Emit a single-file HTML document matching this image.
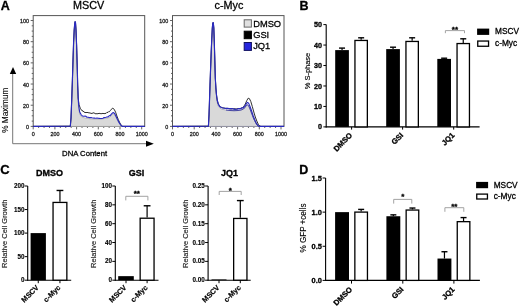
<!DOCTYPE html>
<html><head><meta charset="utf-8"><style>
html,body{margin:0;padding:0;background:#fff;overflow:hidden;}
svg{display:block;font-family:"Liberation Sans", sans-serif;will-change:transform;}
</style></head><body>
<svg width="520" height="306" viewBox="0 0 520 306">
<rect width="520" height="306" fill="#fff"/>
<text x="0.80" y="10.00" font-size="12.5" text-anchor="start" font-weight="bold" fill="#000" stroke="#000" stroke-width="0.3">A</text>
<text x="88.70" y="9.00" font-size="10.8" text-anchor="middle" fill="#000" stroke="#000" stroke-width="0.28">MSCV</text>
<rect x="33.20" y="15.60" width="111.50" height="110.80" fill="none" stroke="#555" stroke-width="1"/>
<line x1="30.70" y1="126.40" x2="33.20" y2="126.40" stroke="#555" stroke-width="0.9"/>
<text x="28.90" y="128.90" font-size="5.4" text-anchor="end" fill="#222" stroke="#222" stroke-width="0.28">0</text>
<line x1="31.70" y1="121.11" x2="33.20" y2="121.11" stroke="#555" stroke-width="0.9"/>
<line x1="31.70" y1="115.81" x2="33.20" y2="115.81" stroke="#555" stroke-width="0.9"/>
<line x1="31.70" y1="110.52" x2="33.20" y2="110.52" stroke="#555" stroke-width="0.9"/>
<line x1="30.70" y1="105.22" x2="33.20" y2="105.22" stroke="#555" stroke-width="0.9"/>
<text x="28.90" y="107.72" font-size="5.4" text-anchor="end" fill="#222" stroke="#222" stroke-width="0.28">20</text>
<line x1="31.70" y1="99.93" x2="33.20" y2="99.93" stroke="#555" stroke-width="0.9"/>
<line x1="31.70" y1="94.63" x2="33.20" y2="94.63" stroke="#555" stroke-width="0.9"/>
<line x1="31.70" y1="89.34" x2="33.20" y2="89.34" stroke="#555" stroke-width="0.9"/>
<line x1="30.70" y1="84.04" x2="33.20" y2="84.04" stroke="#555" stroke-width="0.9"/>
<text x="28.90" y="86.54" font-size="5.4" text-anchor="end" fill="#222" stroke="#222" stroke-width="0.28">40</text>
<line x1="31.70" y1="78.75" x2="33.20" y2="78.75" stroke="#555" stroke-width="0.9"/>
<line x1="31.70" y1="73.45" x2="33.20" y2="73.45" stroke="#555" stroke-width="0.9"/>
<line x1="31.70" y1="68.16" x2="33.20" y2="68.16" stroke="#555" stroke-width="0.9"/>
<line x1="30.70" y1="62.86" x2="33.20" y2="62.86" stroke="#555" stroke-width="0.9"/>
<text x="28.90" y="65.36" font-size="5.4" text-anchor="end" fill="#222" stroke="#222" stroke-width="0.28">60</text>
<line x1="31.70" y1="57.57" x2="33.20" y2="57.57" stroke="#555" stroke-width="0.9"/>
<line x1="31.70" y1="52.27" x2="33.20" y2="52.27" stroke="#555" stroke-width="0.9"/>
<line x1="31.70" y1="46.98" x2="33.20" y2="46.98" stroke="#555" stroke-width="0.9"/>
<line x1="30.70" y1="41.68" x2="33.20" y2="41.68" stroke="#555" stroke-width="0.9"/>
<text x="28.90" y="44.18" font-size="5.4" text-anchor="end" fill="#222" stroke="#222" stroke-width="0.28">80</text>
<line x1="31.70" y1="36.39" x2="33.20" y2="36.39" stroke="#555" stroke-width="0.9"/>
<line x1="31.70" y1="31.09" x2="33.20" y2="31.09" stroke="#555" stroke-width="0.9"/>
<line x1="31.70" y1="25.80" x2="33.20" y2="25.80" stroke="#555" stroke-width="0.9"/>
<line x1="30.70" y1="20.50" x2="33.20" y2="20.50" stroke="#555" stroke-width="0.9"/>
<text x="28.90" y="23.00" font-size="5.4" text-anchor="end" fill="#222" stroke="#222" stroke-width="0.28">100</text>
<line x1="33.20" y1="126.40" x2="33.20" y2="129.40" stroke="#555" stroke-width="0.9"/>
<text x="33.20" y="136.10" font-size="5.4" text-anchor="middle" fill="#222" stroke="#222" stroke-width="0.28">0</text>
<line x1="38.62" y1="126.40" x2="38.62" y2="128.00" stroke="#555" stroke-width="0.9"/>
<line x1="44.05" y1="126.40" x2="44.05" y2="128.00" stroke="#555" stroke-width="0.9"/>
<line x1="49.48" y1="126.40" x2="49.48" y2="128.00" stroke="#555" stroke-width="0.9"/>
<line x1="54.90" y1="126.40" x2="54.90" y2="129.40" stroke="#555" stroke-width="0.9"/>
<text x="54.90" y="136.10" font-size="5.4" text-anchor="middle" fill="#222" stroke="#222" stroke-width="0.28">200</text>
<line x1="60.33" y1="126.40" x2="60.33" y2="128.00" stroke="#555" stroke-width="0.9"/>
<line x1="65.75" y1="126.40" x2="65.75" y2="128.00" stroke="#555" stroke-width="0.9"/>
<line x1="71.18" y1="126.40" x2="71.18" y2="128.00" stroke="#555" stroke-width="0.9"/>
<line x1="76.60" y1="126.40" x2="76.60" y2="129.40" stroke="#555" stroke-width="0.9"/>
<text x="76.60" y="136.10" font-size="5.4" text-anchor="middle" fill="#222" stroke="#222" stroke-width="0.28">400</text>
<line x1="82.03" y1="126.40" x2="82.03" y2="128.00" stroke="#555" stroke-width="0.9"/>
<line x1="87.45" y1="126.40" x2="87.45" y2="128.00" stroke="#555" stroke-width="0.9"/>
<line x1="92.88" y1="126.40" x2="92.88" y2="128.00" stroke="#555" stroke-width="0.9"/>
<line x1="98.30" y1="126.40" x2="98.30" y2="129.40" stroke="#555" stroke-width="0.9"/>
<text x="98.30" y="136.10" font-size="5.4" text-anchor="middle" fill="#222" stroke="#222" stroke-width="0.28">600</text>
<line x1="103.73" y1="126.40" x2="103.73" y2="128.00" stroke="#555" stroke-width="0.9"/>
<line x1="109.15" y1="126.40" x2="109.15" y2="128.00" stroke="#555" stroke-width="0.9"/>
<line x1="114.58" y1="126.40" x2="114.58" y2="128.00" stroke="#555" stroke-width="0.9"/>
<line x1="120.00" y1="126.40" x2="120.00" y2="129.40" stroke="#555" stroke-width="0.9"/>
<text x="120.00" y="136.10" font-size="5.4" text-anchor="middle" fill="#222" stroke="#222" stroke-width="0.28">800</text>
<line x1="125.42" y1="126.40" x2="125.42" y2="128.00" stroke="#555" stroke-width="0.9"/>
<line x1="130.85" y1="126.40" x2="130.85" y2="128.00" stroke="#555" stroke-width="0.9"/>
<line x1="136.28" y1="126.40" x2="136.28" y2="128.00" stroke="#555" stroke-width="0.9"/>
<line x1="141.70" y1="126.40" x2="141.70" y2="129.40" stroke="#555" stroke-width="0.9"/>
<text x="141.70" y="136.10" font-size="5.4" text-anchor="middle" fill="#222" stroke="#222" stroke-width="0.28">1000</text>
<text x="229.00" y="9.00" font-size="10.8" text-anchor="middle" fill="#000" stroke="#000" stroke-width="0.28">c-Myc</text>
<rect x="172.50" y="15.60" width="111.50" height="110.80" fill="none" stroke="#555" stroke-width="1"/>
<line x1="170.00" y1="126.40" x2="172.50" y2="126.40" stroke="#555" stroke-width="0.9"/>
<text x="168.20" y="128.90" font-size="5.4" text-anchor="end" fill="#222" stroke="#222" stroke-width="0.28">0</text>
<line x1="171.00" y1="121.11" x2="172.50" y2="121.11" stroke="#555" stroke-width="0.9"/>
<line x1="171.00" y1="115.81" x2="172.50" y2="115.81" stroke="#555" stroke-width="0.9"/>
<line x1="171.00" y1="110.52" x2="172.50" y2="110.52" stroke="#555" stroke-width="0.9"/>
<line x1="170.00" y1="105.22" x2="172.50" y2="105.22" stroke="#555" stroke-width="0.9"/>
<text x="168.20" y="107.72" font-size="5.4" text-anchor="end" fill="#222" stroke="#222" stroke-width="0.28">20</text>
<line x1="171.00" y1="99.93" x2="172.50" y2="99.93" stroke="#555" stroke-width="0.9"/>
<line x1="171.00" y1="94.63" x2="172.50" y2="94.63" stroke="#555" stroke-width="0.9"/>
<line x1="171.00" y1="89.34" x2="172.50" y2="89.34" stroke="#555" stroke-width="0.9"/>
<line x1="170.00" y1="84.04" x2="172.50" y2="84.04" stroke="#555" stroke-width="0.9"/>
<text x="168.20" y="86.54" font-size="5.4" text-anchor="end" fill="#222" stroke="#222" stroke-width="0.28">40</text>
<line x1="171.00" y1="78.75" x2="172.50" y2="78.75" stroke="#555" stroke-width="0.9"/>
<line x1="171.00" y1="73.45" x2="172.50" y2="73.45" stroke="#555" stroke-width="0.9"/>
<line x1="171.00" y1="68.16" x2="172.50" y2="68.16" stroke="#555" stroke-width="0.9"/>
<line x1="170.00" y1="62.86" x2="172.50" y2="62.86" stroke="#555" stroke-width="0.9"/>
<text x="168.20" y="65.36" font-size="5.4" text-anchor="end" fill="#222" stroke="#222" stroke-width="0.28">60</text>
<line x1="171.00" y1="57.57" x2="172.50" y2="57.57" stroke="#555" stroke-width="0.9"/>
<line x1="171.00" y1="52.27" x2="172.50" y2="52.27" stroke="#555" stroke-width="0.9"/>
<line x1="171.00" y1="46.98" x2="172.50" y2="46.98" stroke="#555" stroke-width="0.9"/>
<line x1="170.00" y1="41.68" x2="172.50" y2="41.68" stroke="#555" stroke-width="0.9"/>
<text x="168.20" y="44.18" font-size="5.4" text-anchor="end" fill="#222" stroke="#222" stroke-width="0.28">80</text>
<line x1="171.00" y1="36.39" x2="172.50" y2="36.39" stroke="#555" stroke-width="0.9"/>
<line x1="171.00" y1="31.09" x2="172.50" y2="31.09" stroke="#555" stroke-width="0.9"/>
<line x1="171.00" y1="25.80" x2="172.50" y2="25.80" stroke="#555" stroke-width="0.9"/>
<line x1="170.00" y1="20.50" x2="172.50" y2="20.50" stroke="#555" stroke-width="0.9"/>
<text x="168.20" y="23.00" font-size="5.4" text-anchor="end" fill="#222" stroke="#222" stroke-width="0.28">100</text>
<line x1="172.50" y1="126.40" x2="172.50" y2="129.40" stroke="#555" stroke-width="0.9"/>
<text x="172.50" y="136.10" font-size="5.4" text-anchor="middle" fill="#222" stroke="#222" stroke-width="0.28">0</text>
<line x1="177.93" y1="126.40" x2="177.93" y2="128.00" stroke="#555" stroke-width="0.9"/>
<line x1="183.35" y1="126.40" x2="183.35" y2="128.00" stroke="#555" stroke-width="0.9"/>
<line x1="188.78" y1="126.40" x2="188.78" y2="128.00" stroke="#555" stroke-width="0.9"/>
<line x1="194.20" y1="126.40" x2="194.20" y2="129.40" stroke="#555" stroke-width="0.9"/>
<text x="194.20" y="136.10" font-size="5.4" text-anchor="middle" fill="#222" stroke="#222" stroke-width="0.28">200</text>
<line x1="199.62" y1="126.40" x2="199.62" y2="128.00" stroke="#555" stroke-width="0.9"/>
<line x1="205.05" y1="126.40" x2="205.05" y2="128.00" stroke="#555" stroke-width="0.9"/>
<line x1="210.47" y1="126.40" x2="210.47" y2="128.00" stroke="#555" stroke-width="0.9"/>
<line x1="215.90" y1="126.40" x2="215.90" y2="129.40" stroke="#555" stroke-width="0.9"/>
<text x="215.90" y="136.10" font-size="5.4" text-anchor="middle" fill="#222" stroke="#222" stroke-width="0.28">400</text>
<line x1="221.32" y1="126.40" x2="221.32" y2="128.00" stroke="#555" stroke-width="0.9"/>
<line x1="226.75" y1="126.40" x2="226.75" y2="128.00" stroke="#555" stroke-width="0.9"/>
<line x1="232.18" y1="126.40" x2="232.18" y2="128.00" stroke="#555" stroke-width="0.9"/>
<line x1="237.60" y1="126.40" x2="237.60" y2="129.40" stroke="#555" stroke-width="0.9"/>
<text x="237.60" y="136.10" font-size="5.4" text-anchor="middle" fill="#222" stroke="#222" stroke-width="0.28">600</text>
<line x1="243.03" y1="126.40" x2="243.03" y2="128.00" stroke="#555" stroke-width="0.9"/>
<line x1="248.45" y1="126.40" x2="248.45" y2="128.00" stroke="#555" stroke-width="0.9"/>
<line x1="253.88" y1="126.40" x2="253.88" y2="128.00" stroke="#555" stroke-width="0.9"/>
<line x1="259.30" y1="126.40" x2="259.30" y2="129.40" stroke="#555" stroke-width="0.9"/>
<text x="259.30" y="136.10" font-size="5.4" text-anchor="middle" fill="#222" stroke="#222" stroke-width="0.28">800</text>
<line x1="264.73" y1="126.40" x2="264.73" y2="128.00" stroke="#555" stroke-width="0.9"/>
<line x1="270.15" y1="126.40" x2="270.15" y2="128.00" stroke="#555" stroke-width="0.9"/>
<line x1="275.57" y1="126.40" x2="275.57" y2="128.00" stroke="#555" stroke-width="0.9"/>
<line x1="281.00" y1="126.40" x2="281.00" y2="129.40" stroke="#555" stroke-width="0.9"/>
<text x="281.00" y="136.10" font-size="5.4" text-anchor="middle" fill="#222" stroke="#222" stroke-width="0.28">1000</text>
<polygon points="70.50,126.40 71.20,118.00 71.90,100.00 72.60,80.00 73.20,60.00 73.80,42.00 74.30,30.00 74.80,24.00 75.10,22.50 75.50,23.50 76.00,31.00 76.60,46.00 77.10,66.00 77.60,86.00 78.00,100.00 78.60,108.00 79.60,114.00 81.20,116.50 84.00,117.80 90.00,118.80 96.00,119.20 100.00,119.30 104.00,118.60 108.00,118.00 110.50,116.50 112.00,114.50 113.20,113.80 114.60,114.80 116.00,117.20 117.40,120.00 119.00,122.90 120.50,125.00 121.80,126.40" fill="#d9d9d9" stroke="#9a9a9a" stroke-width="0.6"/>
<polyline points="33.20,126.40 70.30,126.20 71.00,118.00 71.70,100.00 72.40,80.00 73.00,60.00 73.60,42.00 74.20,30.00 74.70,23.50 75.10,21.60 75.50,22.50 76.00,30.00 76.60,45.00 77.20,65.00 77.70,85.00 78.20,98.00 79.00,104.50 80.30,108.30 82.00,110.80 83.00,110.90 84.00,112.18 85.00,112.30 86.00,112.73 87.00,112.31 88.00,112.71 89.00,112.80 90.00,113.00 91.00,113.27 92.00,113.52 93.00,112.85 94.00,112.88 95.00,113.50 96.00,113.91 97.00,113.51 98.00,113.91 99.00,113.11 100.00,113.70 101.00,113.56 102.00,113.78 103.00,113.16 104.00,113.87 105.00,113.30 106.00,113.47 107.00,112.25 108.00,112.50 108.75,111.53 109.50,111.60 110.25,110.67 111.20,109.40 112.80,108.20 114.20,109.30 115.60,112.20 116.90,116.00 118.30,119.60 119.80,122.80 121.20,125.20 122.40,126.20 123.50,126.40 144.70,126.40" fill="none" stroke="#1a1a1a" stroke-width="0.9" stroke-linejoin="round"/>
<polyline points="33.20,126.40 70.30,126.20 71.00,118.00 71.70,100.00 72.40,80.00 73.00,60.00 73.60,42.00 74.20,30.00 74.70,23.50 75.10,21.60 75.50,22.50 76.00,30.00 76.60,45.00 77.20,65.00 77.70,85.00 78.20,98.00 78.80,106.50 79.70,112.00 81.20,114.80 82.13,115.68 83.07,116.14 84.00,116.20 85.00,116.05 86.00,116.33 87.00,117.25 88.00,117.20 89.00,117.56 90.00,117.65 91.00,117.48 92.00,117.80 93.00,118.00 94.00,118.10 95.00,118.17 96.00,118.20 97.00,117.97 98.00,118.29 99.00,118.33 100.00,118.50 101.00,118.48 102.00,118.50 103.00,118.23 104.00,117.60 105.00,117.49 106.00,117.25 107.00,116.94 108.00,117.00 108.73,116.12 109.47,115.64 110.20,115.60 111.80,113.60 113.20,112.50 114.60,113.50 116.00,116.20 117.40,119.30 119.00,122.40 120.50,124.80 121.80,126.00 123.00,126.40 144.70,126.40" fill="none" stroke="#2a2ac0" stroke-width="1.15" stroke-linejoin="round"/>
<polygon points="208.60,126.40 209.20,115.00 209.70,100.00 210.20,85.00 210.80,68.00 211.40,52.00 212.00,38.00 212.50,28.00 212.90,23.50 213.40,23.50 213.90,29.00 214.40,43.00 214.90,61.00 215.40,79.00 216.00,92.00 216.90,101.00 218.00,105.50 219.80,108.00 222.00,109.30 226.00,110.00 230.00,110.50 234.00,110.70 238.00,110.50 241.00,110.00 243.50,109.00 245.30,107.00 246.60,105.20 247.60,104.80 248.70,106.00 250.00,109.00 251.50,113.00 253.00,117.00 254.50,120.50 256.00,123.30 257.40,125.30 258.60,126.20 259.50,126.40" fill="#d9d9d9" stroke="#8a8aa8" stroke-width="0.6"/>
<polyline points="172.50,126.40 208.40,126.20 209.00,115.00 209.50,100.00 210.00,85.00 210.60,68.00 211.20,52.00 211.80,38.00 212.30,28.00 212.80,22.80 213.30,22.60 213.80,28.00 214.30,42.00 214.80,60.00 215.30,78.00 215.90,88.00 216.50,95.00 217.30,100.50 218.30,104.00 219.80,106.60 222.00,107.70 226.00,108.40 227.00,108.24 228.00,108.64 229.00,108.57 230.00,108.80 231.00,108.95 232.00,109.03 233.00,108.52 234.00,109.00 235.00,108.46 236.00,109.24 237.00,108.61 238.00,108.80 239.00,108.33 240.00,108.90 241.00,108.20 241.83,107.77 242.67,107.74 243.50,107.00 244.40,105.48 245.30,104.00 246.80,100.50 248.20,98.20 249.40,98.60 250.80,101.50 252.30,106.50 253.80,112.00 255.30,117.00 256.80,121.00 258.30,124.30 259.70,126.00 261.00,126.40 284.00,126.40" fill="none" stroke="#1a1a1a" stroke-width="0.9" stroke-linejoin="round"/>
<polyline points="172.50,126.40 208.40,126.20 209.00,115.00 209.50,100.00 210.00,85.00 210.60,68.00 211.20,52.00 211.80,38.00 212.30,28.00 212.80,22.80 213.30,22.60 213.80,28.00 214.30,42.00 214.80,60.00 215.30,78.00 215.90,88.00 216.50,95.00 217.30,100.50 218.30,104.00 219.80,106.60 222.00,107.70 226.00,108.50 227.00,108.34 228.00,108.30 229.00,108.70 230.00,108.90 231.00,108.60 232.00,108.57 233.00,108.95 234.00,109.10 235.00,109.47 236.00,109.30 237.00,109.22 238.00,108.90 239.00,108.46 240.00,108.60 241.00,108.40 241.83,107.98 242.67,107.67 243.50,107.80 244.40,106.31 245.30,105.60 246.60,103.20 247.60,102.40 248.70,103.40 250.00,106.50 251.50,110.80 253.00,115.30 254.50,119.30 256.00,122.60 257.40,125.00 258.60,126.20 259.50,126.40 284.00,126.40" fill="none" stroke="#2a2ac0" stroke-width="1.15" stroke-linejoin="round"/>
<polyline points="226.00,110.00 230.00,110.50 234.00,110.70 238.00,110.50 241.00,110.00 243.50,109.00 245.30,107.00 246.60,105.20 247.60,104.80 248.70,106.00 250.00,109.00 251.50,113.00 253.00,117.00 254.50,120.50 256.00,123.30 257.40,125.30 258.60,126.20 259.50,126.40" fill="none" stroke="#3a3aa0" stroke-width="0.9" stroke-linejoin="round"/>
<rect x="244.20" y="19.80" width="7.20" height="7.30" fill="#e0e0e0" stroke="#666" stroke-width="1"/>
<rect x="244.20" y="31.20" width="7.20" height="7.50" fill="#000" stroke="#000" stroke-width="1"/>
<rect x="244.20" y="42.50" width="7.20" height="7.90" fill="#2626dd" stroke="#101060" stroke-width="1"/>
<text x="253.20" y="26.50" font-size="9.3" text-anchor="start" fill="#000" stroke="#000" stroke-width="0.28">DMSO</text>
<text x="253.20" y="37.90" font-size="9.3" text-anchor="start" fill="#000" stroke="#000" stroke-width="0.28">GSI</text>
<text x="253.20" y="49.10" font-size="9.3" text-anchor="start" fill="#000" stroke="#000" stroke-width="0.28">JQ1</text>
<line x1="12.70" y1="73.00" x2="12.70" y2="143.70" stroke="#777" stroke-width="1"/>
<line x1="12.70" y1="143.70" x2="146.50" y2="143.70" stroke="#777" stroke-width="1"/>
<path d="M13.0 67.0 L16.2 74.0 L9.8 74.0 Z" fill="#000"/>
<path d="M153.8 143.7 L146.0 140.7 L146.0 146.7 Z" fill="#000"/>
<text x="7.80" y="110.20" font-size="8.2" text-anchor="middle" fill="#000" transform="rotate(-90 7.80 110.20)" stroke="#000" stroke-width="0.12">% Maximum</text>
<text x="84.60" y="156.40" font-size="8.0" text-anchor="middle" fill="#000" textLength="45" lengthAdjust="spacingAndGlyphs" stroke="#000" stroke-width="0.28">DNA Content</text>
<text x="299.40" y="10.00" font-size="12.5" text-anchor="start" font-weight="bold" fill="#000" stroke="#000" stroke-width="0.3">B</text>
<line x1="326.20" y1="24.60" x2="326.20" y2="127.40" stroke="#000" stroke-width="1.1"/>
<line x1="325.70" y1="126.90" x2="479.60" y2="126.90" stroke="#000" stroke-width="1.1"/>
<line x1="323.40" y1="126.90" x2="326.20" y2="126.90" stroke="#000" stroke-width="1"/>
<text x="321.90" y="129.48" font-size="7.2" text-anchor="end" font-weight="bold" fill="#000" stroke="#000" stroke-width="0.3">0</text>
<line x1="323.40" y1="106.44" x2="326.20" y2="106.44" stroke="#000" stroke-width="1"/>
<text x="321.90" y="109.02" font-size="7.2" text-anchor="end" font-weight="bold" fill="#000" stroke="#000" stroke-width="0.3">10</text>
<line x1="323.40" y1="85.98" x2="326.20" y2="85.98" stroke="#000" stroke-width="1"/>
<text x="321.90" y="88.56" font-size="7.2" text-anchor="end" font-weight="bold" fill="#000" stroke="#000" stroke-width="0.3">20</text>
<line x1="323.40" y1="65.52" x2="326.20" y2="65.52" stroke="#000" stroke-width="1"/>
<text x="321.90" y="68.10" font-size="7.2" text-anchor="end" font-weight="bold" fill="#000" stroke="#000" stroke-width="0.3">30</text>
<line x1="323.40" y1="45.06" x2="326.20" y2="45.06" stroke="#000" stroke-width="1"/>
<text x="321.90" y="47.64" font-size="7.2" text-anchor="end" font-weight="bold" fill="#000" stroke="#000" stroke-width="0.3">40</text>
<line x1="323.40" y1="24.60" x2="326.20" y2="24.60" stroke="#000" stroke-width="1"/>
<text x="321.90" y="27.18" font-size="7.2" text-anchor="end" font-weight="bold" fill="#000" stroke="#000" stroke-width="0.3">50</text>
<rect x="335.20" y="50.10" width="13.70" height="76.80" fill="#000" stroke="none" stroke-width="1"/>
<rect x="354.95" y="40.45" width="12.40" height="86.45" fill="#fff" stroke="#000" stroke-width="1.3"/>
<line x1="342.05" y1="48.10" x2="342.05" y2="50.10" stroke="#000" stroke-width="1.2"/>
<line x1="339.05" y1="48.10" x2="345.05" y2="48.10" stroke="#000" stroke-width="1.4"/>
<line x1="361.15" y1="37.80" x2="361.15" y2="39.80" stroke="#000" stroke-width="1.2"/>
<line x1="358.15" y1="37.80" x2="364.15" y2="37.80" stroke="#000" stroke-width="1.4"/>
<line x1="351.60" y1="126.90" x2="351.60" y2="129.60" stroke="#000" stroke-width="1"/>
<rect x="386.20" y="49.10" width="13.70" height="77.80" fill="#000" stroke="none" stroke-width="1"/>
<rect x="405.95" y="41.45" width="12.40" height="85.45" fill="#fff" stroke="#000" stroke-width="1.3"/>
<line x1="393.05" y1="47.20" x2="393.05" y2="49.10" stroke="#000" stroke-width="1.2"/>
<line x1="390.05" y1="47.20" x2="396.05" y2="47.20" stroke="#000" stroke-width="1.4"/>
<line x1="412.15" y1="37.80" x2="412.15" y2="40.80" stroke="#000" stroke-width="1.2"/>
<line x1="409.15" y1="37.80" x2="415.15" y2="37.80" stroke="#000" stroke-width="1.4"/>
<line x1="402.60" y1="126.90" x2="402.60" y2="129.60" stroke="#000" stroke-width="1"/>
<rect x="437.30" y="58.90" width="13.70" height="68.00" fill="#000" stroke="none" stroke-width="1"/>
<rect x="457.05" y="43.55" width="12.40" height="83.35" fill="#fff" stroke="#000" stroke-width="1.3"/>
<line x1="444.15" y1="58.20" x2="444.15" y2="58.90" stroke="#000" stroke-width="1.2"/>
<line x1="441.15" y1="58.20" x2="447.15" y2="58.20" stroke="#000" stroke-width="1.4"/>
<line x1="463.25" y1="38.80" x2="463.25" y2="42.90" stroke="#000" stroke-width="1.2"/>
<line x1="460.25" y1="38.80" x2="466.25" y2="38.80" stroke="#000" stroke-width="1.4"/>
<line x1="453.70" y1="126.90" x2="453.70" y2="129.60" stroke="#000" stroke-width="1"/>
<text x="352.80" y="135.80" font-size="7.6" text-anchor="end" font-weight="bold" fill="#000" transform="rotate(-45 352.80 135.80)" stroke="#000" stroke-width="0.3">DMSO</text>
<text x="403.80" y="135.80" font-size="7.6" text-anchor="end" font-weight="bold" fill="#000" transform="rotate(-45 403.80 135.80)" stroke="#000" stroke-width="0.3">GSI</text>
<text x="454.90" y="135.80" font-size="7.6" text-anchor="end" font-weight="bold" fill="#000" transform="rotate(-45 454.90 135.80)" stroke="#000" stroke-width="0.3">JQ1</text>
<path d="M445.40 33.20 L445.40 30.60 L464.50 30.60 L464.50 33.20" fill="none" stroke="#999" stroke-width="0.9"/>
<text x="454.95" y="31.70" font-size="8" text-anchor="middle" font-weight="bold" fill="#000" stroke="#000" stroke-width="0.3">**</text>
<rect x="477.10" y="28.60" width="12.10" height="6.30" fill="#000" stroke="none" stroke-width="1"/>
<rect x="477.75" y="41.05" width="10.80" height="5.20" fill="#fff" stroke="#000" stroke-width="1.3"/>
<text x="495.00" y="34.40" font-size="8.3" text-anchor="start" fill="#000" stroke="#000" stroke-width="0.28">MSCV</text>
<text x="495.00" y="46.20" font-size="8.3" text-anchor="start" fill="#000" stroke="#000" stroke-width="0.28">c-Myc</text>
<text x="309.60" y="71.00" font-size="7.8" text-anchor="middle" fill="#000" transform="rotate(-90 309.60 71.00)" textLength="36.5" lengthAdjust="spacingAndGlyphs" stroke="#000" stroke-width="0.15">% S-phase</text>
<text x="0.30" y="174.30" font-size="13" text-anchor="start" font-weight="bold" fill="#000" stroke="#000" stroke-width="0.3">C</text>
<line x1="27.70" y1="186.00" x2="27.70" y2="280.70" stroke="#000" stroke-width="1.1"/>
<line x1="27.20" y1="280.20" x2="71.20" y2="280.20" stroke="#000" stroke-width="1.1"/>
<line x1="24.70" y1="280.20" x2="27.70" y2="280.20" stroke="#000" stroke-width="1"/>
<text x="24.40" y="282.26" font-size="6.3" text-anchor="end" font-weight="bold" fill="#000" stroke="#000" stroke-width="0.12">0</text>
<line x1="24.70" y1="256.65" x2="27.70" y2="256.65" stroke="#000" stroke-width="1"/>
<text x="24.40" y="258.71" font-size="6.3" text-anchor="end" font-weight="bold" fill="#000" stroke="#000" stroke-width="0.12">50</text>
<line x1="24.70" y1="233.10" x2="27.70" y2="233.10" stroke="#000" stroke-width="1"/>
<text x="24.40" y="235.16" font-size="6.3" text-anchor="end" font-weight="bold" fill="#000" stroke="#000" stroke-width="0.12">100</text>
<line x1="24.70" y1="209.55" x2="27.70" y2="209.55" stroke="#000" stroke-width="1"/>
<text x="24.40" y="211.61" font-size="6.3" text-anchor="end" font-weight="bold" fill="#000" stroke="#000" stroke-width="0.12">150</text>
<line x1="24.70" y1="186.00" x2="27.70" y2="186.00" stroke="#000" stroke-width="1"/>
<text x="24.40" y="188.06" font-size="6.3" text-anchor="end" font-weight="bold" fill="#000" stroke="#000" stroke-width="0.12">200</text>
<text x="49.40" y="175.80" font-size="9.0" text-anchor="middle" font-weight="bold" fill="#000" stroke="#000" stroke-width="0.3">DMSO</text>
<text x="7.20" y="233.80" font-size="7.5" text-anchor="middle" fill="#222" transform="rotate(-90 7.20 233.80)" stroke="#222" stroke-width="0.15">Relative Cell Growth</text>
<rect x="30.60" y="233.10" width="15.30" height="47.10" fill="#000" stroke="none" stroke-width="1"/>
<rect x="53.05" y="202.43" width="13.80" height="77.77" fill="#fff" stroke="#000" stroke-width="1.3"/>
<line x1="59.95" y1="190.47" x2="59.95" y2="201.78" stroke="#000" stroke-width="1.2"/>
<line x1="56.55" y1="190.47" x2="63.35" y2="190.47" stroke="#000" stroke-width="1.4"/>
<line x1="38.25" y1="280.20" x2="38.25" y2="283.20" stroke="#000" stroke-width="1"/>
<text x="39.25" y="288.00" font-size="7.3" text-anchor="end" font-weight="bold" fill="#000" transform="rotate(-45 39.25 288.00)" stroke="#000" stroke-width="0.18">MSCV</text>
<line x1="59.95" y1="280.20" x2="59.95" y2="283.20" stroke="#000" stroke-width="1"/>
<text x="60.95" y="288.00" font-size="7.3" text-anchor="end" font-weight="bold" fill="#000" transform="rotate(-45 60.95 288.00)" stroke="#000" stroke-width="0.18">c-Myc</text>
<line x1="115.30" y1="186.00" x2="115.30" y2="280.70" stroke="#000" stroke-width="1.1"/>
<line x1="114.80" y1="280.20" x2="158.50" y2="280.20" stroke="#000" stroke-width="1.1"/>
<line x1="112.30" y1="280.20" x2="115.30" y2="280.20" stroke="#000" stroke-width="1"/>
<text x="112.00" y="282.26" font-size="6.3" text-anchor="end" font-weight="bold" fill="#000" stroke="#000" stroke-width="0.12">0</text>
<line x1="112.30" y1="261.36" x2="115.30" y2="261.36" stroke="#000" stroke-width="1"/>
<text x="112.00" y="263.42" font-size="6.3" text-anchor="end" font-weight="bold" fill="#000" stroke="#000" stroke-width="0.12">20</text>
<line x1="112.30" y1="242.52" x2="115.30" y2="242.52" stroke="#000" stroke-width="1"/>
<text x="112.00" y="244.58" font-size="6.3" text-anchor="end" font-weight="bold" fill="#000" stroke="#000" stroke-width="0.12">40</text>
<line x1="112.30" y1="223.68" x2="115.30" y2="223.68" stroke="#000" stroke-width="1"/>
<text x="112.00" y="225.74" font-size="6.3" text-anchor="end" font-weight="bold" fill="#000" stroke="#000" stroke-width="0.12">60</text>
<line x1="112.30" y1="204.84" x2="115.30" y2="204.84" stroke="#000" stroke-width="1"/>
<text x="112.00" y="206.90" font-size="6.3" text-anchor="end" font-weight="bold" fill="#000" stroke="#000" stroke-width="0.12">80</text>
<line x1="112.30" y1="186.00" x2="115.30" y2="186.00" stroke="#000" stroke-width="1"/>
<text x="112.00" y="188.06" font-size="6.3" text-anchor="end" font-weight="bold" fill="#000" stroke="#000" stroke-width="0.12">100</text>
<text x="136.50" y="175.80" font-size="9.0" text-anchor="middle" font-weight="bold" fill="#000" stroke="#000" stroke-width="0.3">GSI</text>
<text x="96.40" y="233.80" font-size="7.5" text-anchor="middle" fill="#222" transform="rotate(-90 96.40 233.80)" stroke="#222" stroke-width="0.15">Relative Cell Growth</text>
<rect x="118.20" y="276.15" width="15.60" height="4.05" fill="#000" stroke="none" stroke-width="1"/>
<rect x="140.15" y="218.21" width="13.90" height="61.99" fill="#fff" stroke="#000" stroke-width="1.3"/>
<line x1="147.10" y1="205.78" x2="147.10" y2="217.56" stroke="#000" stroke-width="1.2"/>
<line x1="143.70" y1="205.78" x2="150.50" y2="205.78" stroke="#000" stroke-width="1.4"/>
<line x1="126.00" y1="280.20" x2="126.00" y2="283.20" stroke="#000" stroke-width="1"/>
<text x="127.00" y="288.00" font-size="7.3" text-anchor="end" font-weight="bold" fill="#000" transform="rotate(-45 127.00 288.00)" stroke="#000" stroke-width="0.18">MSCV</text>
<line x1="147.10" y1="280.20" x2="147.10" y2="283.20" stroke="#000" stroke-width="1"/>
<text x="148.10" y="288.00" font-size="7.3" text-anchor="end" font-weight="bold" fill="#000" transform="rotate(-45 148.10 288.00)" stroke="#000" stroke-width="0.18">c-Myc</text>
<path d="M125.80 200.40 L125.80 196.30 L147.90 196.30 L147.90 200.40" fill="none" stroke="#999" stroke-width="0.9"/>
<text x="136.85" y="196.30" font-size="8" text-anchor="middle" font-weight="bold" fill="#000" stroke="#000" stroke-width="0.3">**</text>
<line x1="208.10" y1="186.00" x2="208.10" y2="280.70" stroke="#000" stroke-width="1.1"/>
<line x1="207.60" y1="280.20" x2="250.70" y2="280.20" stroke="#000" stroke-width="1.1"/>
<line x1="205.10" y1="280.20" x2="208.10" y2="280.20" stroke="#000" stroke-width="1"/>
<text x="204.80" y="282.26" font-size="6.3" text-anchor="end" font-weight="bold" fill="#000" stroke="#000" stroke-width="0.12">0.00</text>
<line x1="205.10" y1="261.36" x2="208.10" y2="261.36" stroke="#000" stroke-width="1"/>
<text x="204.80" y="263.42" font-size="6.3" text-anchor="end" font-weight="bold" fill="#000" stroke="#000" stroke-width="0.12">0.05</text>
<line x1="205.10" y1="242.52" x2="208.10" y2="242.52" stroke="#000" stroke-width="1"/>
<text x="204.80" y="244.58" font-size="6.3" text-anchor="end" font-weight="bold" fill="#000" stroke="#000" stroke-width="0.12">0.10</text>
<line x1="205.10" y1="223.68" x2="208.10" y2="223.68" stroke="#000" stroke-width="1"/>
<text x="204.80" y="225.74" font-size="6.3" text-anchor="end" font-weight="bold" fill="#000" stroke="#000" stroke-width="0.12">0.15</text>
<line x1="205.10" y1="204.84" x2="208.10" y2="204.84" stroke="#000" stroke-width="1"/>
<text x="204.80" y="206.90" font-size="6.3" text-anchor="end" font-weight="bold" fill="#000" stroke="#000" stroke-width="0.12">0.20</text>
<line x1="205.10" y1="186.00" x2="208.10" y2="186.00" stroke="#000" stroke-width="1"/>
<text x="204.80" y="188.06" font-size="6.3" text-anchor="end" font-weight="bold" fill="#000" stroke="#000" stroke-width="0.12">0.25</text>
<text x="229.40" y="175.80" font-size="9.0" text-anchor="middle" font-weight="bold" fill="#000" stroke="#000" stroke-width="0.3">JQ1</text>
<text x="187.80" y="233.80" font-size="7.5" text-anchor="middle" fill="#222" transform="rotate(-90 187.80 233.80)" stroke="#222" stroke-width="0.15">Relative Cell Growth</text>
<rect x="211.50" y="279.45" width="15.00" height="0.75" fill="#000" stroke="none" stroke-width="1"/>
<rect x="233.65" y="218.45" width="13.30" height="61.75" fill="#fff" stroke="#000" stroke-width="1.3"/>
<line x1="240.30" y1="200.58" x2="240.30" y2="217.80" stroke="#000" stroke-width="1.2"/>
<line x1="236.90" y1="200.58" x2="243.70" y2="200.58" stroke="#000" stroke-width="1.4"/>
<line x1="219.00" y1="280.20" x2="219.00" y2="283.20" stroke="#000" stroke-width="1"/>
<text x="220.00" y="288.00" font-size="7.3" text-anchor="end" font-weight="bold" fill="#000" transform="rotate(-45 220.00 288.00)" stroke="#000" stroke-width="0.18">MSCV</text>
<line x1="240.30" y1="280.20" x2="240.30" y2="283.20" stroke="#000" stroke-width="1"/>
<text x="241.30" y="288.00" font-size="7.3" text-anchor="end" font-weight="bold" fill="#000" transform="rotate(-45 241.30 288.00)" stroke="#000" stroke-width="0.18">c-Myc</text>
<path d="M219.20 195.00 L219.20 191.40 L241.20 191.40 L241.20 195.00" fill="none" stroke="#999" stroke-width="0.9"/>
<text x="230.20" y="192.70" font-size="8" text-anchor="middle" font-weight="bold" fill="#000" stroke="#000" stroke-width="0.3">*</text>
<text x="299.20" y="174.30" font-size="12.5" text-anchor="start" font-weight="bold" fill="#000" stroke="#000" stroke-width="0.3">D</text>
<line x1="325.60" y1="178.00" x2="325.60" y2="280.90" stroke="#000" stroke-width="1.1"/>
<line x1="325.10" y1="280.40" x2="479.90" y2="280.40" stroke="#000" stroke-width="1.1"/>
<line x1="322.60" y1="280.40" x2="325.60" y2="280.40" stroke="#000" stroke-width="1"/>
<text x="321.80" y="283.05" font-size="7.4" text-anchor="end" font-weight="bold" fill="#000" stroke="#000" stroke-width="0.3">0.0</text>
<line x1="322.60" y1="246.27" x2="325.60" y2="246.27" stroke="#000" stroke-width="1"/>
<text x="321.80" y="248.92" font-size="7.4" text-anchor="end" font-weight="bold" fill="#000" stroke="#000" stroke-width="0.3">0.5</text>
<line x1="322.60" y1="212.13" x2="325.60" y2="212.13" stroke="#000" stroke-width="1"/>
<text x="321.80" y="214.78" font-size="7.4" text-anchor="end" font-weight="bold" fill="#000" stroke="#000" stroke-width="0.3">1.0</text>
<line x1="322.60" y1="178.00" x2="325.60" y2="178.00" stroke="#000" stroke-width="1"/>
<text x="321.80" y="180.65" font-size="7.4" text-anchor="end" font-weight="bold" fill="#000" stroke="#000" stroke-width="0.3">1.5</text>
<rect x="335.10" y="212.13" width="13.90" height="68.27" fill="#000" stroke="none" stroke-width="1"/>
<rect x="354.85" y="212.10" width="12.60" height="68.30" fill="#fff" stroke="#000" stroke-width="1.3"/>
<line x1="361.15" y1="209.40" x2="361.15" y2="211.45" stroke="#000" stroke-width="1.2"/>
<line x1="358.15" y1="209.40" x2="364.15" y2="209.40" stroke="#000" stroke-width="1.4"/>
<line x1="351.50" y1="280.40" x2="351.50" y2="283.60" stroke="#000" stroke-width="1"/>
<rect x="386.40" y="216.23" width="13.90" height="64.17" fill="#000" stroke="none" stroke-width="1"/>
<rect x="406.15" y="210.05" width="12.60" height="70.35" fill="#fff" stroke="#000" stroke-width="1.3"/>
<line x1="393.35" y1="214.86" x2="393.35" y2="216.23" stroke="#000" stroke-width="1.2"/>
<line x1="390.35" y1="214.86" x2="396.35" y2="214.86" stroke="#000" stroke-width="1.4"/>
<line x1="412.45" y1="208.04" x2="412.45" y2="209.40" stroke="#000" stroke-width="1.2"/>
<line x1="409.45" y1="208.04" x2="415.45" y2="208.04" stroke="#000" stroke-width="1.4"/>
<line x1="402.80" y1="280.40" x2="402.80" y2="283.60" stroke="#000" stroke-width="1"/>
<rect x="437.50" y="258.55" width="13.90" height="21.85" fill="#000" stroke="none" stroke-width="1"/>
<rect x="457.25" y="221.66" width="12.60" height="58.74" fill="#fff" stroke="#000" stroke-width="1.3"/>
<line x1="444.45" y1="251.73" x2="444.45" y2="258.55" stroke="#000" stroke-width="1.2"/>
<line x1="441.45" y1="251.73" x2="447.45" y2="251.73" stroke="#000" stroke-width="1.4"/>
<line x1="463.55" y1="217.59" x2="463.55" y2="221.01" stroke="#000" stroke-width="1.2"/>
<line x1="460.55" y1="217.59" x2="466.55" y2="217.59" stroke="#000" stroke-width="1.4"/>
<line x1="453.90" y1="280.40" x2="453.90" y2="283.60" stroke="#000" stroke-width="1"/>
<text x="352.70" y="290.00" font-size="7.6" text-anchor="end" font-weight="bold" fill="#000" transform="rotate(-45 352.70 290.00)" stroke="#000" stroke-width="0.3">DMSO</text>
<text x="404.00" y="290.00" font-size="7.6" text-anchor="end" font-weight="bold" fill="#000" transform="rotate(-45 404.00 290.00)" stroke="#000" stroke-width="0.3">GSI</text>
<text x="455.10" y="290.00" font-size="7.6" text-anchor="end" font-weight="bold" fill="#000" transform="rotate(-45 455.10 290.00)" stroke="#000" stroke-width="0.3">JQ1</text>
<path d="M393.70 203.60 L393.70 199.40 L411.80 199.40 L411.80 203.60" fill="none" stroke="#999" stroke-width="0.9"/>
<text x="402.75" y="199.00" font-size="8" text-anchor="middle" font-weight="bold" fill="#000" stroke="#000" stroke-width="0.3">*</text>
<path d="M444.90 211.80 L444.90 207.70 L463.80 207.70 L463.80 211.80" fill="none" stroke="#999" stroke-width="0.9"/>
<text x="454.35" y="208.50" font-size="8" text-anchor="middle" font-weight="bold" fill="#000" stroke="#000" stroke-width="0.3">**</text>
<rect x="476.10" y="181.90" width="12.00" height="6.30" fill="#000" stroke="none" stroke-width="1"/>
<rect x="476.75" y="194.10" width="10.70" height="4.90" fill="#fff" stroke="#000" stroke-width="1.3"/>
<text x="493.70" y="187.80" font-size="8.3" text-anchor="start" fill="#000" stroke="#000" stroke-width="0.28">MSCV</text>
<text x="493.70" y="198.60" font-size="8.3" text-anchor="start" fill="#000" stroke="#000" stroke-width="0.28">c-Myc</text>
<text x="306.40" y="228.00" font-size="8.7" text-anchor="middle" fill="#000" transform="rotate(-90 306.40 228.00)" textLength="49" lengthAdjust="spacingAndGlyphs" stroke="#000" stroke-width="0.12">% GFP +cells</text>
</svg></body></html>
